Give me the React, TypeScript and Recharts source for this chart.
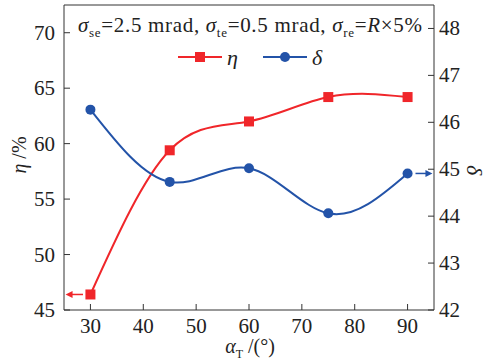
import React from "react";
import {
  LineChart,
  Line,
  XAxis,
  YAxis,
  ReferenceLine,
  Legend,
} from "recharts";

const angles = [30, 45, 60, 75, 90];
const etaValues = [46.4, 59.4, 62.0, 64.2, 64.2];
const deltaValues = [46.27, 44.73, 45.02, 44.06, 44.91];
const xTicks = [30, 40, 50, 60, 70, 80, 90];
const leftTicks = [45, 50, 55, 60, 65, 70];
const rightTicks = [42, 43, 44, 45, 46, 47, 48];

const RED = "#f0262a";
const BLUE = "#2353a8";
const AXIS = "#333";
const FONT = "'Liberation Serif', 'DejaVu Serif', serif";
const txt = { fontFamily: FONT };

const data = angles.map((a, i) => ({ a, eta: etaValues[i], delta: deltaValues[i] }));

const BottomTick = (p: any) => (
  <g>
    <line x1={p.x} x2={p.x} y1={p.y} y2={p.y - 6} stroke={AXIS} />
    <text x={p.x} y={p.y + 16} textAnchor="middle" dominantBaseline="central" style={txt} fontSize={21} fill="#222">
      {p.payload.value}
    </text>
  </g>
);

const LeftTick = (p: any) => (
  <g>
    <line x1={p.x} x2={p.x + 6} y1={p.y} y2={p.y} stroke={AXIS} />
    <text x={p.x - 9} y={p.y} textAnchor="end" dominantBaseline="central" style={txt} fontSize={21} fill="#222">
      {p.payload.value}
    </text>
  </g>
);

const RightTick = (p: any) => (
  <g>
    <line x1={p.x} x2={p.x - 6} y1={p.y} y2={p.y} stroke={AXIS} />
    <text x={p.x + 5} y={p.y} textAnchor="start" dominantBaseline="central" style={txt} fontSize={21} fill="#222">
      {p.payload.value}
    </text>
  </g>
);

const SquareDot = (p: any) => (
  <rect key={`sq-${p.index}`} x={p.cx - 5} y={p.cy - 5} width={10} height={10} fill={RED} />
);

const Arrow = (color: string) => (p: any) => {
  const { x1, y1, x2, y2 } = p;
  const dir = x2 > x1 ? 1 : -1;
  return (
    <g>
      <line x1={x1} y1={y1} x2={x2 - dir * 4} y2={y2} stroke={color} strokeWidth={1.5} />
      <polygon points={`${x2},${y2} ${x2 - dir * 7},${y2 - 3.5} ${x2 - dir * 7},${y2 + 3.5}`} fill={color} />
    </g>
  );
};

const legendItems = [
  { name: "η", color: RED, shape: "square" },
  { name: "δ", color: BLUE, shape: "circle" },
];

const LegendContent = () => (
  <svg width={490} height={24} style={{ display: "block" }}>
    {legendItems.map((it, i) => {
      const x0 = 178 + i * 85;
      return (
        <g key={it.name}>
          <line x1={x0} x2={x0 + 44} y1={12} y2={12} stroke={it.color} strokeWidth={2} />
          {it.shape === "square" ? (
            <rect x={x0 + 17} y={7} width={10} height={10} fill={it.color} />
          ) : (
            <circle cx={x0 + 22} cy={12} r={5} fill={it.color} />
          )}
          <text x={x0 + 49} y={12} dominantBaseline="central" style={{ ...txt, fontStyle: "italic" }} fontSize={22} fill="#222">
            {it.name}
          </text>
        </g>
      );
    })}
  </svg>
);

export default function App() {
  return (
    <div style={{ position: "absolute", left: 0, top: 0, width: 490, height: 361, background: "#fff" }}>
      <LineChart width={490} height={361} data={data} margin={{ top: 5, right: 0, bottom: 0, left: 0 }}>
        <XAxis
          dataKey="a"
          type="number"
          domain={[25, 95]}
          ticks={xTicks}
          height={51}
          tickSize={0}
          tickMargin={0}
          tickLine={false}
          tick={<BottomTick />}
          axisLine={{ stroke: AXIS }}
          interval={0}
        />
        <YAxis
          yAxisId="left"
          domain={[45, 72.5]}
          ticks={leftTicks}
          width={64}
          tickSize={0}
          tickMargin={0}
          tickLine={false}
          tick={<LeftTick />}
          axisLine={{ stroke: AXIS }}
          interval={0}
        />
        <YAxis
          yAxisId="right"
          orientation="right"
          domain={[42, 48.5]}
          ticks={rightTicks}
          width={56}
          tickSize={0}
          tickMargin={0}
          tickLine={false}
          tick={<RightTick />}
          axisLine={{ stroke: AXIS }}
          interval={0}
        />
        <ReferenceLine yAxisId="left" y={72.5} stroke={AXIS} />
        <ReferenceLine
          yAxisId="left"
          segment={[{ x: 28.6, y: etaValues[0] }, { x: 25.3, y: etaValues[0] }]}
          shape={Arrow(RED)}
        />
        <ReferenceLine
          yAxisId="right"
          segment={[{ x: 91.5, y: deltaValues[4] }, { x: 94.7, y: deltaValues[4] }]}
          shape={Arrow(BLUE)}
        />
        <Line
          yAxisId="left"
          type="natural"
          dataKey="eta"
          stroke={RED}
          strokeWidth={2}
          dot={<SquareDot />}
          isAnimationActive={false}
        />
        <Line
          yAxisId="right"
          type="natural"
          dataKey="delta"
          stroke={BLUE}
          strokeWidth={2}
          dot={{ r: 5, fill: BLUE, stroke: BLUE, strokeWidth: 0 }}
          isAnimationActive={false}
        />
        <Legend
          verticalAlign="middle"
          layout="horizontal"
          content={<LegendContent />}
          wrapperStyle={{ top: 45, left: 0, width: 490, height: 24 }}
        />
      </LineChart>
      <svg width={490} height={361} style={{ position: "absolute", left: 0, top: 0, pointerEvents: "none", fontFamily: FONT }}>
        <text x={78} y={32} textLength={344} lengthAdjust="spacing" style={txt} fontSize={21} fill="#222">
          <tspan fontStyle="italic">σ</tspan>
          <tspan fontSize={13} dy={5}>se</tspan>
          <tspan dy={-5}>=2.5 mrad, </tspan>
          <tspan fontStyle="italic">σ</tspan>
          <tspan fontSize={13} dy={5}>te</tspan>
          <tspan dy={-5}>=0.5 mrad, </tspan>
          <tspan fontStyle="italic">σ</tspan>
          <tspan fontSize={13} dy={5}>re</tspan>
          <tspan dy={-5}>=</tspan>
          <tspan fontStyle="italic">R</tspan>
          <tspan>×5%</tspan>
        </text>
        <text transform="translate(26,155) rotate(-90)" textAnchor="middle" style={txt} fontSize={20} fill="#222">
          <tspan fontStyle="italic">η</tspan>
          <tspan> /%</tspan>
        </text>
        <text transform="translate(467,170) rotate(90)" textAnchor="middle" style={txt} fontSize={22} fill="#222">
          <tspan fontStyle="italic">δ</tspan>
        </text>
        <text x={250} y={353} textAnchor="middle" style={txt} fontSize={20} fill="#222">
          <tspan fontStyle="italic">α</tspan>
          <tspan fontSize={12} dy={5}>T</tspan>
          <tspan dy={-5}> /(°)</tspan>
        </text>
      </svg>
    </div>
  );
}
